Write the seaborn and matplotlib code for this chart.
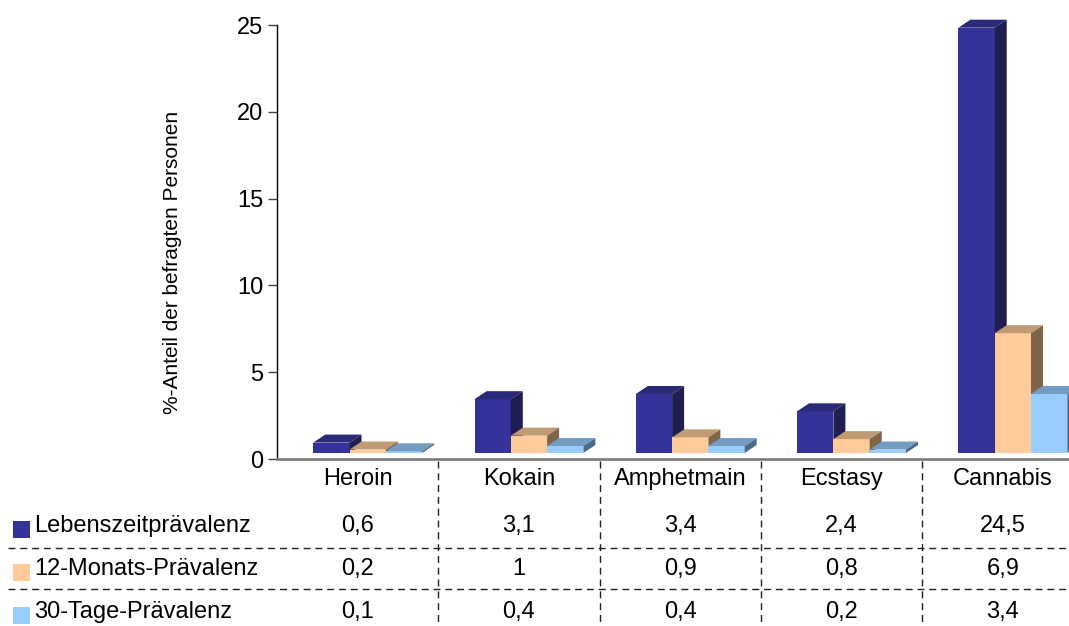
import matplotlib
matplotlib.use("Agg")
import matplotlib.pyplot as plt
import matplotlib.transforms as mtransforms
from matplotlib.patches import Polygon, Rectangle
from matplotlib.lines import Line2D
import numpy as np
import pandas as pd
import seaborn as sns

# ---- data -------------------------------------------------------------
drogen = ["Heroin", "Kokain", "Amphetmain", "Ecstasy", "Cannabis"]
reihen = ["Lebenszeitprävalenz", "12-Monats-Prävalenz", "30-Tage-Prävalenz"]
lebenszeit = [0.6, 3.1, 3.4, 2.4, 24.5]
monate12 = [0.2, 1.0, 0.9, 0.8, 6.9]
tage30 = [0.1, 0.4, 0.4, 0.2, 3.4]
y_ticks = [0, 5, 10, 15, 20, 25]
y_label = "%-Anteil der befragten Personen"

# front / top / side shades for each series
farben_front = ["#333399", "#ffcc99", "#99ccff"]
farben_top = ["#2a2a78", "#c09a72", "#739cc2"]
farben_side = ["#1e1e50", "#7f6547", "#4e6a8a"]

werte = [lebenszeit, monate12, tage30]
df = pd.DataFrame({
    "Droge": np.repeat([drogen], len(reihen), axis=0).ravel(),
    "Reihe": np.repeat(reihen, len(drogen)),
    "Wert": np.concatenate(werte),
})

sns.set_theme(style="white")
plt.rcParams["font.family"] = ["Liberation Sans", "DejaVu Sans"]

W, H = 1069, 626
fig = plt.figure(figsize=(W / 100, H / 100), dpi=100)
fig.patch.set_facecolor("white")

# axes in pixel geometry
ax_left, ax_right, ax_top, ax_bottom = 277, 1083.5, 25, 459
ax = fig.add_axes([ax_left / W, 1 - ax_bottom / H,
                   (ax_right - ax_left) / W, (ax_bottom - ax_top) / H])

sns.barplot(data=df, x="Droge", y="Wert", hue="Reihe", order=drogen,
            hue_order=reihen, palette=dict(zip(reihen, farben_front)),
            saturation=1, width=0.675, gap=0, linewidth=0, legend=False,
            ax=ax)

ax.set_xlim(-0.5, len(drogen) - 0.5)
ax.set_ylim(0, 25)

px_per_x = (ax_right - ax_left) / len(drogen)
px_per_y = (ax_bottom - ax_top) / 25.0
depth_dx = 12 / px_per_x
depth_dy = 8 / px_per_y
shift_x = 10 / px_per_x
lift = mtransforms.ScaledTranslation(0, 6 / 100, fig.dpi_scale_trans)
trans = ax.transData + lift

for i, cont in enumerate(ax.containers):
    z = 3 + i
    for bar in cont:
        x0 = bar.get_x() + shift_x
        w = bar.get_width()
        h = bar.get_height()
        bar.set_x(x0)
        bar.set_transform(trans)
        bar.set_zorder(z)
        bar.set_clip_on(False)
        top = Polygon([(x0, h), (x0 + w, h), (x0 + w + depth_dx, h + depth_dy),
                       (x0 + depth_dx, h + depth_dy)], closed=True,
                      facecolor=farben_top[i], edgecolor="none",
                      transform=trans, zorder=z, clip_on=False)
        side = Polygon([(x0 + w, 0), (x0 + w + depth_dx, depth_dy),
                        (x0 + w + depth_dx, h + depth_dy), (x0 + w, h)],
                       closed=True, facecolor=farben_side[i], edgecolor="none",
                       transform=trans, zorder=z, clip_on=False)
        ax.add_patch(top)
        ax.add_patch(side)

# axes styling
for s in ["top", "right"]:
    ax.spines[s].set_visible(False)
ax.spines["left"].set_color("black")
ax.spines["left"].set_linewidth(1)
ax.spines["bottom"].set_color("#808080")
ax.spines["bottom"].set_linewidth(2)
ax.spines["bottom"].set_zorder(10)
ax.set_yticks(y_ticks)
ax.set_yticklabels([str(t) for t in y_ticks], fontsize=17)
ax.tick_params(axis="y", which="major", left=True, length=6.5, width=1,
               color="#404040", pad=3.5, labelcolor="black")
ax.set_xticks([])
ax.set_xlabel("")
ax.set_ylabel("")
fig.text(173 / W, 1 - 262 / H, y_label, rotation=90, ha="center",
         va="center", fontsize=15, color="black")

# ---- data table below the chart ----------------------------------------
blend = mtransforms.blended_transform_factory(ax.transData, fig.transFigure)
row_header = 479
row_ys = [526, 569, 612]
fontsize_tab = 17

def fmt(v):
    return f"{v:g}".replace(".", ",")

for j, name in enumerate(drogen):
    fig.text(j, 1 - row_header / H, name, transform=blend, ha="center",
             va="center", fontsize=fontsize_tab, color="black")
    for i, serie in enumerate(werte):
        fig.text(j, 1 - row_ys[i] / H, fmt(serie[j]), transform=blend,
                 ha="center", va="center", fontsize=fontsize_tab,
                 color="black")

for i, name in enumerate(reihen):
    yc = row_ys[i] + 3
    fig.patches.append(Rectangle((13 / W, 1 - (yc + 8.5) / H), 17 / W,
                                 17 / H, transform=fig.transFigure,
                                 facecolor=farben_front[i], edgecolor="none"))
    fig.text(34 / W, 1 - row_ys[i] / H, name, ha="left", va="center",
             fontsize=fontsize_tab, color="black")

dash = (0, (5, 3.5))
for y in [547.5, 589]:
    fig.lines.append(Line2D([8 / W, 1], [1 - y / H, 1 - y / H],
                            transform=fig.transFigure, color="#202020",
                            linewidth=1, linestyle=dash))
for j in range(len(drogen) - 1):
    fig.lines.append(Line2D([j + 0.5, j + 0.5], [1 - 461 / H, 0],
                            transform=blend, color="#202020", linewidth=1,
                            linestyle=dash))

fig.savefig("out.png", dpi=100, facecolor="white")
